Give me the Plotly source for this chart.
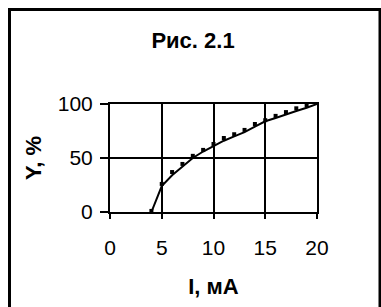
import plotly.graph_objects as go

current_ma = [4, 5, 6, 7, 8, 9, 10, 11, 12, 13, 14, 15, 16, 17, 18, 19, 20]
y_measured = [1, 26, 37, 44.5, 52, 57.5, 63, 68.5, 72, 76, 81.5, 85, 89, 92.5, 96, 99, 101]
y_fit = [0, 24, 34, 42, 50, 56, 61, 66, 70, 74, 79, 84, 87, 90.5, 93.5, 96.5, 100]

x_ticks = [0, 5, 10, 15, 20]
y_ticks = [0, 50, 100]

W, H = 381, 307
L, R, T, B = 110, 64, 104, 95

fig = go.Figure()
fig.add_trace(go.Scatter(x=current_ma, y=y_fit, mode="lines",
                         line=dict(color="black", width=2), showlegend=False))
fig.add_trace(go.Scatter(x=current_ma, y=y_measured, mode="markers",
                         marker=dict(symbol="square", size=4, color="black"),
                         showlegend=False, cliponaxis=False))

pw = W - L - R
ph = H - T - B
def px_to_paper_x(px):
    return (px - L) / pw
def px_to_paper_y(py):
    return (H - B - py) / ph

fig.add_shape(type="rect", xref="paper", yref="paper",
              x0=px_to_paper_x(9.5), x1=px_to_paper_x(380),
              y0=px_to_paper_y(330), y1=px_to_paper_y(9.5),
              line=dict(color="black", width=3), layer="above")

font_family = "Liberation Sans, Arial, sans-serif"
fig.update_layout(
    width=W, height=H, autosize=False,
    margin=dict(l=L, r=R, t=T, b=B, pad=0),
    paper_bgcolor="white", plot_bgcolor="white",
    font=dict(family=font_family, color="black", size=21),
    title=dict(text="<b>Рис. 2.1</b>", x=193 / W, xanchor="center",
               y=1 - 40 / H, yanchor="middle", font=dict(size=22)),
    xaxis=dict(range=[0, 20], tickvals=x_ticks, ticktext=[str(v) for v in x_ticks],
               showgrid=True, gridcolor="black", gridwidth=1.5,
               showline=True, linecolor="black", linewidth=2, mirror=True,
               ticks="outside", ticklen=5, tickwidth=1.5, tickcolor="black",
               zeroline=False, tickfont=dict(size=21), ticklabelstandoff=11,
               title=dict(text="<b>I, мА</b>", font=dict(size=22), standoff=20)),
    yaxis=dict(range=[0, 100], tickvals=y_ticks, ticktext=[str(v) for v in y_ticks],
               showgrid=True, gridcolor="black", gridwidth=1.5,
               showline=True, linecolor="black", linewidth=2, mirror=True,
               ticks="outside", ticklen=8, tickwidth=1.5, tickcolor="black",
               zeroline=False, tickfont=dict(size=21), ticklabelstandoff=3,
               title=dict(text="<b>Y, %</b>", font=dict(size=22), standoff=10)),
)

fig.write_html("out.html",
               config={"displayModeBar": False},
               post_script="document.body.style.margin='0';document.body.style.overflow='hidden';")
